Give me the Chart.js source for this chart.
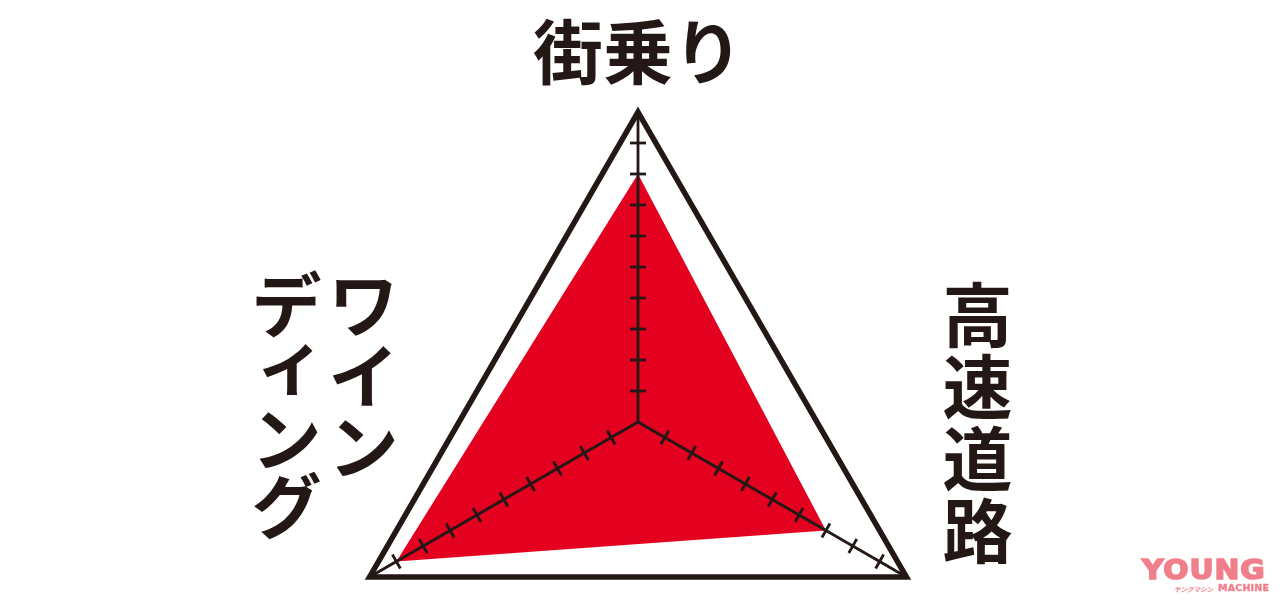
<!DOCTYPE html>
<html>
<head>
<meta charset="utf-8">
<script src="https://cdn.jsdelivr.net/npm/chart.js@4.4.0/dist/chart.umd.min.js"></script>
<style>
html, body { margin: 0; padding: 0; background: #ffffff; overflow: hidden; width: 1280px; height: 600px; }
#wrap { position: absolute; left: 0; top: 0; width: 1280px; height: 800px; }
#logo { position: absolute; left: 1142px; top: 556px; width: 130px; color: #f07f8b; }
#logo .y { font-family: 'DejaVu Sans'; font-weight: bold; font-size: 27px; line-height: 27px; letter-spacing: 0.8px; -webkit-text-stroke: 1.6px #f07f8b; transform: scaleX(1.1); transform-origin: left top; }
#logo .m { position: relative; height: 12px; }
#logo .k { position: absolute; left: 32px; top: 1px; font-family: 'Noto Sans CJK JP'; font-size: 6.5px; font-style: italic; font-weight: bold; white-space: nowrap; }
#logo .mc { position: absolute; left: 76px; top: -1px; font-family: 'DejaVu Sans'; font-weight: bold; font-size: 9.5px; letter-spacing: 0.2px; -webkit-text-stroke: 0.4px #f07f8b; white-space: nowrap; }
</style>
</head>
<body>
<div id="wrap"><canvas id="c"></canvas></div>
<div id="logo"><div class="y">YOUNG</div><div class="m"><span class="k">ヤングマシン</span><span class="mc">MACHINE</span></div></div>
<script>
// ---- data ----
const categories = ['街乗り', '高速道路', 'ワインディング'];
const values = [8, 7, 9];
const scaleMin = 0;
const scaleMax = 10;
const scaleStep = 1;
const columnBreaks = { 'ワインディング': ['ワイン', 'ディング'] };

// ---- styles ----
const INK = '#231815';
const RED = '#e4001f';
const LABEL_FONT = "bold 70px 'Noto Sans CJK JP'";

const tickMarks = {
  id: 'tickMarks',
  afterDraw(chart) {
    const s = chart.scales.r;
    const ctx = chart.ctx;
    ctx.save();
    ctx.strokeStyle = INK;
    ctx.lineWidth = 2.8;
    ctx.lineCap = 'butt';
    const half = 8;
    for (let i = 0; i < categories.length; i++) {
      for (let v = scaleMin + scaleStep; v < scaleMax; v += scaleStep) {
        const d = s.getDistanceFromCenterForValue(v);
        const p = s.getPointPosition(i, d);
        const nx = -Math.sin(p.angle), ny = Math.cos(p.angle);
        ctx.beginPath();
        ctx.moveTo(p.x - nx * half, p.y - ny * half);
        ctx.lineTo(p.x + nx * half, p.y + ny * half);
        ctx.stroke();
      }
    }
    ctx.restore();
  }
};

const axisLabels = {
  id: 'axisLabels',
  afterDraw(chart) {
    const s = chart.scales.r;
    const ctx = chart.ctx;
    const R = s.drawingArea;
    ctx.save();
    ctx.fillStyle = INK;
    ctx.font = LABEL_FONT;
    ctx.textAlign = 'center';
    ctx.textBaseline = 'middle';
    const drawChar = (ch, x, y) => {
      let dx = 0, dy = 0;
      if ('ィァゥェォッャュョ'.includes(ch)) { dx = 4; dy = -10; }
      ctx.fillText(ch, x + dx, y + dy);
    };
    // top label: horizontal
    const p0 = s.getPointPosition(0, R);
    ctx.fillText(categories[0], p0.x, p0.y - 60);
    // right label: vertical column
    const p1 = s.getPointPosition(1, R);
    Array.from(categories[1]).forEach((ch, k) => drawChar(ch, p1.x + 71, p1.y - 262 + k * 72));
    // left label: two vertical columns, right to left
    const p2 = s.getPointPosition(2, R);
    const cols = columnBreaks[categories[2]] || [categories[2]];
    const colX = [p2.x - 6, p2.x - 83];
    const steps = [71, 67];
    cols.forEach((col, c) => {
      Array.from(col).forEach((ch, k) => drawChar(ch, colX[c], p2.y - 272 + k * steps[c]));
    });
    ctx.restore();
  }
};

new Chart(document.getElementById('c'), {
  type: 'radar',
  data: {
    labels: categories,
    datasets: [{
      data: values,
      backgroundColor: RED,
      borderWidth: 0,
      borderColor: RED,
      pointRadius: 0,
      pointHoverRadius: 0,
      fill: true
    }]
  },
  options: {
    responsive: true,
    maintainAspectRatio: false,
    animation: false,
    events: [],
    layout: { padding: { top: 112, bottom: 68, left: 0, right: 4 } },
    plugins: { legend: { display: false }, tooltip: { enabled: false } },
    scales: {
      r: {
        z: 1,
        min: scaleMin,
        max: scaleMax,
        ticks: { display: false, stepSize: scaleStep },
        pointLabels: { display: false },
        angleLines: { display: true, color: INK, lineWidth: 2.8 },
        grid: {
          z: 1,
          color: (c) => (c.tick && c.tick.value === scaleMax) ? INK : 'rgba(0,0,0,0)',
          lineWidth: (c) => (c.tick && c.tick.value === scaleMax) ? 5.5 : 0
        }
      }
    }
  },
  plugins: [tickMarks, axisLabels]
});
</script>
</body>
</html>
